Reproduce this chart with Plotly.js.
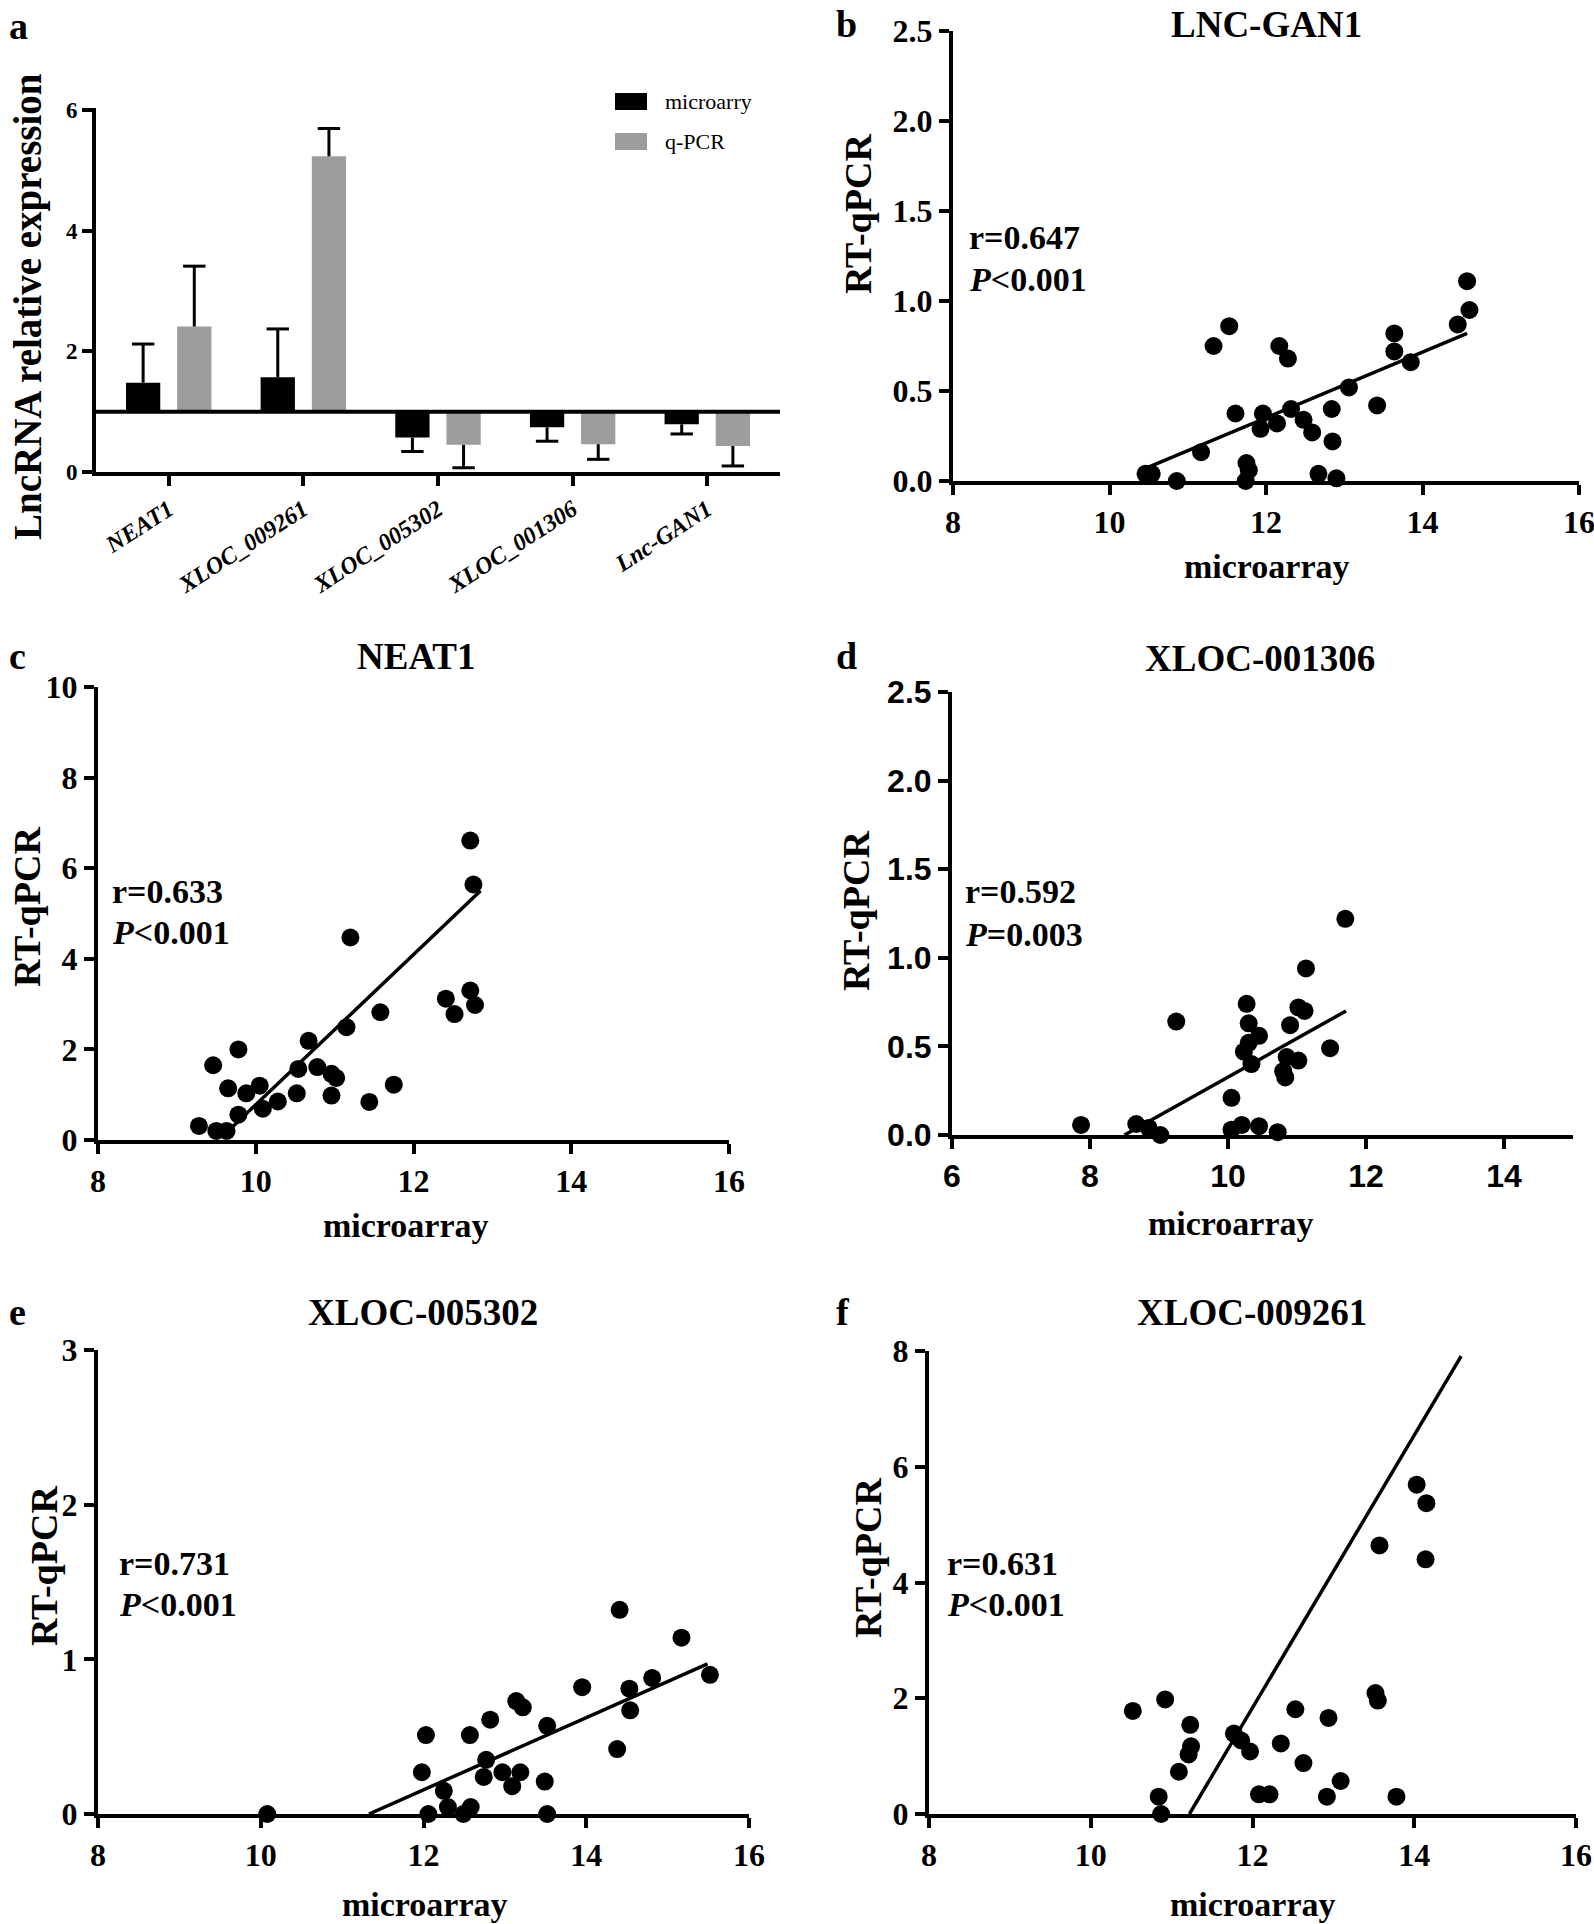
<!DOCTYPE html>
<html>
<head>
<meta charset="utf-8">
<script src="https://cdn.plot.ly/plotly-3.0.1.min.js"></script>
<style>
  html, body { margin: 0; padding: 0; background: #fff; }
  #fig { width: 1594px; height: 1924px; }
</style>
</head>
<body>
<div id="fig"></div>
<script>
// a: microarray vs q-PCR (mean, sd)
var genes = ['NEAT1', 'XLOC_009261', 'XLOC_005302', 'XLOC_001306', 'Lnc-GAN1'];
var microMean = [1.48, 1.57, 0.57, 0.74, 0.79];
var microSD = [0.64, 0.80, 0.23, 0.23, 0.16];
var pcrMean = [2.41, 5.23, 0.45, 0.46, 0.43];
var pcrSD = [1.00, 0.46, 0.38, 0.25, 0.33];

// b: LNC-GAN1
var ganX = [10.46, 10.54, 10.86, 11.17, 11.33, 11.53, 11.61, 11.75, 11.78, 11.74, 11.96, 11.93, 12.14, 12.17, 12.28,
            12.32, 12.48, 12.59, 12.67, 12.84, 12.85, 12.90, 13.06, 13.42, 13.64, 13.64, 13.85, 14.45, 14.57, 14.60];
var ganY = [0.04, 0.04, 0.0, 0.16, 0.75, 0.86, 0.375, 0.10, 0.06, 0.0, 0.375, 0.29, 0.32, 0.75, 0.68,
            0.40, 0.34, 0.27, 0.04, 0.40, 0.22, 0.015, 0.52, 0.42, 0.82, 0.72, 0.66, 0.87, 1.11, 0.95];
var ganFitX = [10.46, 14.57];
var ganFitY = [0.07, 0.82];

// c: NEAT1
var neatX = [9.28, 9.50, 9.63, 9.46, 9.65, 9.78, 9.78, 9.88, 10.05, 10.09, 10.28, 10.52, 10.54, 10.67, 10.78,
             10.96, 11.02, 10.96, 11.15, 11.20, 11.44, 11.58, 11.75, 12.41, 12.52, 12.72, 12.78, 12.72, 12.76];
var neatY = [0.31, 0.20, 0.20, 1.65, 1.14, 2.0, 0.56, 1.03, 1.20, 0.69, 0.85, 1.03, 1.57, 2.19, 1.61,
             1.46, 1.37, 0.98, 2.49, 4.47, 0.84, 2.82, 1.22, 3.12, 2.78, 3.30, 2.98, 6.61, 5.64];
var neatFitX = [9.62, 12.85];
var neatFitY = [0.15, 5.50];

// d: XLOC-001306
var x1306X = [7.87, 8.67, 8.85, 9.02, 9.25, 10.05, 10.05, 10.20, 10.27, 10.30, 10.30, 10.23, 10.34,
              10.45, 10.45, 10.72, 10.80, 10.83, 10.85, 10.90, 11.02, 11.02, 11.11, 11.13, 11.48, 11.70];
var x1306Y = [0.057, 0.062, 0.04, 0.0, 0.64, 0.21, 0.03, 0.057, 0.74, 0.63, 0.52, 0.47, 0.40,
              0.56, 0.05, 0.016, 0.36, 0.325, 0.44, 0.62, 0.42, 0.72, 0.70, 0.94, 0.49, 1.22];
var x1306FitX = [8.5, 11.71];
var x1306FitY = [0.0, 0.70];

// e: XLOC-005302
var x5302X = [10.08, 11.98, 12.03, 12.06, 12.25, 12.30, 12.49, 12.58, 12.57, 12.74, 12.77, 12.82, 12.97, 13.09,
              13.14, 13.19, 13.22, 13.49, 13.52, 13.52, 13.95, 14.38, 14.41, 14.53, 14.54, 14.81, 15.17, 15.52];
var x5302Y = [0.0, 0.27, 0.51, 0.0, 0.15, 0.045, 0.0, 0.045, 0.51, 0.24, 0.35, 0.61, 0.27, 0.18,
              0.73, 0.27, 0.69, 0.21, 0.57, 0.0, 0.82, 0.42, 1.32, 0.81, 0.67, 0.88, 1.14, 0.90];
var x5302FitX = [11.33, 15.49];
var x5302FitY = [0.0, 0.97];

// f: XLOC-009261
var x9261X = [10.52, 10.84, 10.87, 10.92, 11.09, 11.21, 11.24, 11.23, 11.77, 11.86, 11.97, 12.08, 12.21,
              12.35, 12.53, 12.63, 12.92, 12.94, 13.09, 13.52, 13.55, 13.57, 13.78, 14.03, 14.15, 14.14];
var x9261Y = [1.78, 0.30, 0.0, 1.98, 0.73, 1.03, 1.17, 1.54, 1.39, 1.27, 1.08, 0.34, 0.34,
              1.22, 1.81, 0.88, 0.30, 1.66, 0.57, 2.09, 1.96, 4.64, 0.30, 5.69, 5.37, 4.40];
var x9261FitX = [11.22, 14.58];
var x9261FitY = [0.0, 7.91];

var W = 1594, H = 1924;
var SERIF = 'Liberation Serif, Times New Roman, serif';
var SANS = 'Liberation Sans, Arial, sans-serif';
var bargap = 0.24, bargroupgap = 0.33;
var shift = (1 - bargap) / 4;

function dx(a, b) { return [a / W, b / W]; }
function dy(top, bottom) { return [1 - bottom / H, 1 - top / H]; }

var traces = [];

// bars sit on the y=1 line
function bars(name, mean, color) {
  return {
    type: 'bar', name: name, x: genes.map(function (g, i) { return i; }),
    y: mean.map(function (v) { return v - 1; }), base: 1,
    marker: {color: color, line: {width: 0}}, xaxis: 'x', yaxis: 'y', hoverinfo: 'skip'
  };
}
function whisker(mean, sd, off) {
  var xs = [], ys = [], tx = [], ty = [];
  mean.forEach(function (m, i) {
    var tip = m >= 1 ? m + sd[i] : m - sd[i];
    xs.push(i + off, i + off, null);
    ys.push(m, tip, null);
    tx.push(i + off);
    ty.push(tip);
  });
  return [
    {type: 'scatter', mode: 'lines', x: xs, y: ys, line: {color: '#000', width: 3},
     xaxis: 'x', yaxis: 'y', hoverinfo: 'skip', cliponaxis: false},
    {type: 'scatter', mode: 'markers', x: tx, y: ty, cliponaxis: false,
     marker: {symbol: 'line-ew', size: 16, line: {width: 3, color: '#000'}},
     xaxis: 'x', yaxis: 'y', hoverinfo: 'skip'}
  ];
}
traces.push(bars('microarry', microMean, '#000000'));
traces.push(bars('q-PCR', pcrMean, '#9d9d9d'));
traces = traces.concat(whisker(microMean, microSD, -shift), whisker(pcrMean, pcrSD, shift));

function scatterPanel(n, xs, ys, fx, fy) {
  traces.push({type: 'scatter', mode: 'lines', x: fx, y: fy, xaxis: 'x' + n, yaxis: 'y' + n,
    line: {color: '#000', width: 3.5}, hoverinfo: 'skip'});
  traces.push({type: 'scatter', mode: 'markers', x: xs, y: ys, xaxis: 'x' + n, yaxis: 'y' + n,
    cliponaxis: false, marker: {color: '#000', size: 18}});
}
scatterPanel(2, ganX, ganY, ganFitX, ganFitY);
scatterPanel(3, neatX, neatY, neatFitX, neatFitY);
scatterPanel(4, x1306X, x1306Y, x1306FitX, x1306FitY);
scatterPanel(5, x5302X, x5302Y, x5302FitX, x5302FitY);
scatterPanel(6, x9261X, x9261Y, x9261FitX, x9261FitY);

function ax(o, fam, size) {
  var base = {
    showline: true, linewidth: 4, linecolor: '#000', ticks: 'outside', ticklen: 10, tickwidth: 4,
    tickcolor: '#000', showgrid: false, zeroline: false, fixedrange: true, ticklabeloverflow: 'allow',
    tickfont: {family: fam || SERIF, size: size || 32, weight: 'bold', color: '#000'}
  };
  for (var k in o) base[k] = o[k];
  return base;
}

var layout = {
  width: W, height: H, margin: {l: 0, r: 0, t: 0, b: 0},
  paper_bgcolor: '#fff', plot_bgcolor: 'rgba(0,0,0,0)', showlegend: false,
  barmode: 'group', bargap: bargap, bargroupgap: bargroupgap,
  xaxis: ax({domain: dx(96, 780), anchor: 'y', range: [-0.54, 4.54], tickvals: [0, 1, 2, 3, 4],
             ticktext: genes, tickangle: -33,
             tickfont: {family: SERIF, size: 24, weight: 'bold', style: 'italic', color: '#000'}}),
  yaxis: ax({domain: dy(108, 472), anchor: 'x', range: [0, 6.03], tickvals: [0, 2, 4, 6]}, SERIF, 23),
  xaxis2: ax({domain: dx(953, 1579), anchor: 'y2', range: [8, 16], dtick: 2}),
  yaxis2: ax({domain: dy(31, 481), anchor: 'x2', range: [0, 2.5], dtick: 0.5, tickformat: '.1f'}),
  xaxis3: ax({domain: dx(98, 729), anchor: 'y3', range: [8, 16], dtick: 2}),
  yaxis3: ax({domain: dy(687, 1140), anchor: 'x3', range: [0, 10], dtick: 2}),
  xaxis4: ax({domain: dx(952, 1573), anchor: 'y4', range: [6, 15], tickvals: [6, 8, 10, 12, 14]}, SANS, 32),
  yaxis4: ax({domain: dy(692, 1135), anchor: 'x4', range: [0, 2.5], dtick: 0.5, tickformat: '.1f'}, SANS, 32),
  xaxis5: ax({domain: dx(98, 749), anchor: 'y5', range: [8, 16], dtick: 2}),
  yaxis5: ax({domain: dy(1350, 1814), anchor: 'x5', range: [0, 3], dtick: 1}),
  xaxis6: ax({domain: dx(929, 1576), anchor: 'y6', range: [8, 16], dtick: 2}),
  yaxis6: ax({domain: dy(1351, 1814), anchor: 'x6', range: [0, 8], dtick: 2}),
  shapes: [
    {type: 'line', xref: 'x domain', yref: 'y', x0: 0, x1: 1, y0: 1, y1: 1, line: {color: '#000', width: 4}},
    {type: 'rect', xref: 'paper', yref: 'paper', x0: 615 / W, x1: 647 / W, y0: 1 - 110 / H, y1: 1 - 93 / H,
     fillcolor: '#000', line: {width: 0}},
    {type: 'rect', xref: 'paper', yref: 'paper', x0: 615 / W, x1: 647 / W, y0: 1 - 150 / H, y1: 1 - 133 / H,
     fillcolor: '#9d9d9d', line: {width: 0}}
  ],
  annotations: []
};

function note(text, x, y, size, opts) {
  var a = {text: text, xref: 'paper', yref: 'paper', x: x / W, y: 1 - y / H, showarrow: false,
    xanchor: 'center', yanchor: 'middle',
    font: {family: SERIF, size: size, color: '#000', weight: 'bold'}};
  for (var k in (opts || {})) a[k] = opts[k];
  layout.annotations.push(a);
}

// legend text
note('microarry', 663, 101, 22, {xanchor: 'left', font: {family: SERIF, size: 22, color: '#000'}});
note('q-PCR', 663, 141, 22, {xanchor: 'left', font: {family: SERIF, size: 22, color: '#000'}});

// panel letters
[['a', 18, 26], ['b', 846, 24], ['c', 17, 656], ['d', 846, 656], ['e', 17, 1312], ['f', 843, 1312]]
  .forEach(function (p) { note(p[0], p[1], p[2], 38); });

// titles
note('LNC-GAN1', 1266, 24, 37);
note('NEAT1', 416, 656, 37);
note('XLOC-001306', 1260, 658, 37);
note('XLOC-005302', 423, 1312, 37);
note('XLOC-009261', 1252, 1312, 37);

// stats
[['r=0.647', '<i>P</i>&lt;0.001', 967, 237, 279],
 ['r=0.633', '<i>P</i>&lt;0.001', 110, 891, 933],
 ['r=0.592', '<i>P</i>=0.003', 963, 891, 935],
 ['r=0.731', '<i>P</i>&lt;0.001', 117, 1563, 1604],
 ['r=0.631', '<i>P</i>&lt;0.001', 945, 1563, 1604]].forEach(function (s) {
  note(s[0], s[2], s[3], 34, {xanchor: 'left'});
  note(s[1], s[2], s[4], 34, {xanchor: 'left'});
});

// axis titles
note('LncRNA relative expression', 28, 307, 39, {textangle: -90});
[[1267, 567], [406, 1225], [1231, 1223], [425, 1904], [1253, 1904]]
  .forEach(function (p) { note('microarray', p[0], p[1], 34); });
[[858, 214], [27, 907], [856, 911], [44, 1566], [868, 1558]]
  .forEach(function (p) { note('RT-qPCR', p[0], p[1], 38, {textangle: -90}); });

Plotly.newPlot('fig', traces, layout, {displayModeBar: false, staticPlot: true});
</script>
</body>
</html>
